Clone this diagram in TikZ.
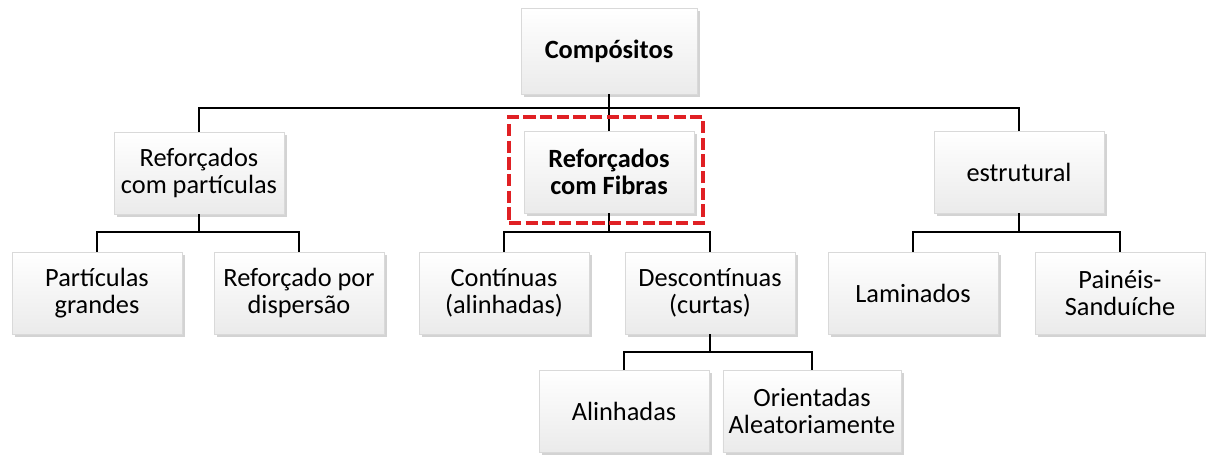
\documentclass[tikz,border=0pt]{standalone}
\usepackage{fontspec}
\setmainfont{Carlito}
\usetikzlibrary{shadows}
\definecolor{tracejado}{RGB}{224,32,36}

\begin{document}
\begin{tikzpicture}[x=0.02cm, y=-0.02cm,
    caixa/.style={draw=gray!30, line width=0.4pt, top color=white, bottom color=gray!16,
      drop shadow={shadow xshift=1.6pt, shadow yshift=-1.6pt, opacity=0.35, fill=gray},
      minimum width=3.4cm, minimum height=1.64cm, align=center,
      font=\fontsize{15}{15.6}\selectfont},
    liga/.style={line width=1.1pt}]
    \useasboundingbox (0,0) rectangle (1206,454);
    \node[caixa, minimum width=3.52cm, minimum height=1.72cm, font=\fontsize{15}{15.6}\selectfont\bfseries] (1) at (609,51) {Compósitos};
    \node[caixa] (2) at (199,173) {Reforçados\\com partículas};
    \node[caixa, font=\fontsize{15}{15.6}\selectfont\bfseries] (3) at (609,172) {Reforçados\\com Fibras};
    \node[caixa] (4) at (1019,172) {estrutural};
    \node[caixa] (5) at (97,293) {Partículas\\grandes};
    \node[caixa] (6) at (299,293) {Reforçado por\\dispersão};
    \node[caixa] (7) at (504,293) {Contínuas\\(alinhadas)};
    \node[caixa] (8) at (710,293) {Descontínuas\\(curtas)};
    \node[caixa] (9) at (913,293) {Laminados};
    \node[caixa] (10) at (1120,293) {Painéis-\\Sanduíche};
    \node[caixa] (11) at (624,411) {Alinhadas};
    \node[caixa] (12) at (812,411) {Orientadas\\Aleatoriamente};
    \coordinate (b1) at (609,108);
    \coordinate (b2) at (199,232);
    \coordinate (b3) at (609,232);
    \coordinate (b4) at (1019,232);
    \coordinate (b5) at (710,352);
\begin{scope}[liga]
    \draw (1.south) -- (3.north);
    \draw (2.north) |- (b1) -| (4.north);
    \draw (2.south) -- (b2);
    \draw (5.north) |- (b2) -| (6.north);
    \draw (3.south) -- (b3);
    \draw (7.north) |- (b3) -| (8.north);
    \draw (4.south) -- (b4);
    \draw (9.north) |- (b4) -| (10.north);
    \draw (8.south) -- (b5);
    \draw (11.north) |- (b5) -| (12.north);
\end{scope}
    \node[draw=tracejado, line width=2.3pt, dash pattern=on 7pt off 2.5pt,
      minimum width=3.88cm, minimum height=2.12cm] (13) at (606,170) {};
\end{tikzpicture}
\end{document}
